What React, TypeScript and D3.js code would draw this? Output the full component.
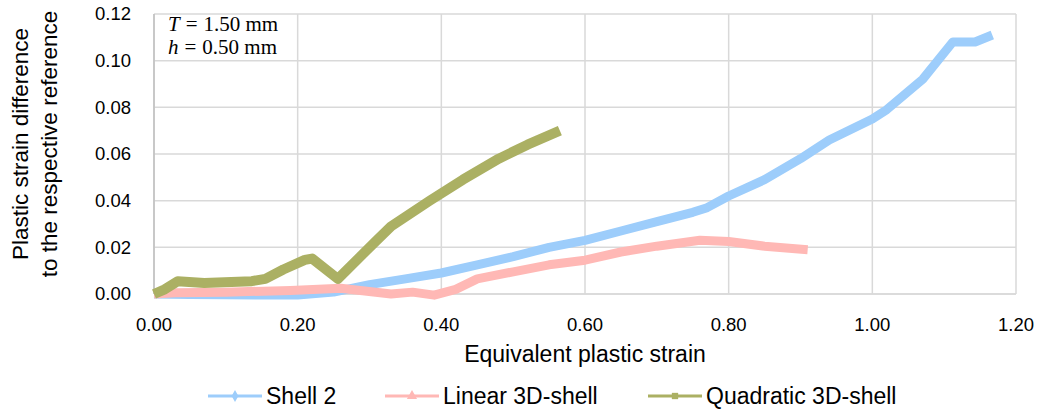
import React from "react";
import * as d3 from "d3";

const width = 1041;
const height = 412;
const margin = { top: 14, right: 25, bottom: 118, left: 154 };

// Shell 2 (blue)
const shell2X = [0, 0.05, 0.1, 0.15, 0.2, 0.25, 0.3, 0.35, 0.4, 0.45, 0.5, 0.55, 0.6, 0.65, 0.7, 0.75, 0.77, 0.8, 0.85, 0.9, 0.94, 1.0, 1.02, 1.07, 1.112, 1.143, 1.167];
const shell2Y = [0, -0.0002, -0.0003, -0.0004, -0.0004, 0.0008, 0.004, 0.0065, 0.009, 0.0125, 0.016, 0.02, 0.023, 0.027, 0.031, 0.035, 0.037, 0.042, 0.049, 0.058, 0.066, 0.075, 0.079, 0.092, 0.108, 0.108, 0.111];

// Linear 3D-shell (pink)
const linearX = [0, 0.03, 0.1, 0.19, 0.26, 0.33, 0.36, 0.39, 0.42, 0.45, 0.5, 0.55, 0.6, 0.65, 0.7, 0.76, 0.8, 0.85, 0.91];
const linearY = [0, 0.0005, 0.0008, 0.0015, 0.0025, 0.0, 0.0008, -0.0005, 0.002, 0.0065, 0.0095, 0.0125, 0.0145, 0.018, 0.0205, 0.023, 0.0225, 0.0205, 0.019];

// Quadratic 3D-shell (olive)
const quadX = [0, 0.015, 0.033, 0.07, 0.136, 0.155, 0.18, 0.21, 0.22, 0.256, 0.31, 0.33, 0.384, 0.43, 0.48, 0.52, 0.565];
const quadY = [0, 0.002, 0.0055, 0.0047, 0.0055, 0.0065, 0.0105, 0.0146, 0.0152, 0.0065, 0.023, 0.029, 0.04, 0.049, 0.058, 0.064, 0.07];

const xTicks = [0, 0.2, 0.4, 0.6, 0.8, 1.0, 1.2];
const yTicks = [0, 0.02, 0.04, 0.06, 0.08, 0.1, 0.12];

const series = [
  { name: "Shell 2", xs: shell2X, ys: shell2Y, color: "#9dcdfb", marker: "diamond", w: 9 },
  { name: "Linear 3D-shell", xs: linearX, ys: linearY, color: "#ffb8b5", marker: "triangle", w: 9 },
  { name: "Quadratic 3D-shell", xs: quadX, ys: quadY, color: "#abb063", marker: "square", w: 10 },
];

const font = "Liberation Sans, Arial, sans-serif";
const serif = "Liberation Serif, DejaVu Serif, serif";

export default function App() {
  const xScale = d3.scaleLinear().domain([0, 1.2]).range([margin.left, width - margin.right]);
  const yScale = d3.scaleLinear().domain([0, 0.12]).range([height - margin.bottom, margin.top]);

  const line = d3.line<[number, number]>()
    .x(d => xScale(d[0]))
    .y(d => yScale(d[1]));

  const legendX = [208, 385, 648];
  const legendY = 396;

  const markerPath = (kind: string) => {
    if (kind === "diamond") return d3.symbol(d3.symbolDiamond, 40)();
    if (kind === "triangle") return d3.symbol(d3.symbolTriangle, 45)();
    return d3.symbol(d3.symbolSquare, 40)();
  };

  return (
    <div style={{ position: "absolute", left: 0, top: 0 }}>
      <svg width={width} height={height} style={{ display: "block", background: "#fff" }}>
        {/* grid */}
        {yTicks.map(t => (
          <line key={"gy" + t} x1={xScale(0)} x2={xScale(1.2)} y1={yScale(t)} y2={yScale(t)} stroke="#d9d9d9" strokeWidth={1.5} />
        ))}
        {xTicks.map(t => (
          <line key={"gx" + t} x1={xScale(t)} x2={xScale(t)} y1={yScale(0)} y2={yScale(0.12)} stroke="#d9d9d9" strokeWidth={1.5} />
        ))}
        <line x1={xScale(0)} x2={xScale(0)} y1={yScale(0)} y2={yScale(0.12)} stroke="#bfbfbf" strokeWidth={1.5} />
        <line x1={xScale(0)} x2={xScale(1.2)} y1={yScale(0)} y2={yScale(0)} stroke="#d9d9d9" strokeWidth={1.5} />

        {/* tick labels */}
        {yTicks.map(t => (
          <text key={"ty" + t} x={131} y={yScale(t)} dy="0.35em" textAnchor="end" fontFamily={font} fontSize={18.5} fill="#000">
            {t.toFixed(2)}
          </text>
        ))}
        {xTicks.map(t => (
          <text key={"tx" + t} x={xScale(t)} y={325} dy="0.35em" textAnchor="middle" fontFamily={font} fontSize={18.5} fill="#000">
            {t.toFixed(2)}
          </text>
        ))}

        {/* axis titles */}
        <text x={xScale(0.6)} y={354} dy="0.35em" textAnchor="middle" fontFamily={font} fontSize={23} fill="#000">
          Equivalent plastic strain
        </text>
        <text transform="translate(20,144) rotate(-90)" textAnchor="middle" dy="0.35em" fontFamily={font} fontSize={22.5} fill="#000">
          Plastic strain difference
        </text>
        <text transform="translate(49,144) rotate(-90)" textAnchor="middle" dy="0.35em" fontFamily={font} fontSize={22.5} fill="#000">
          to the respective reference
        </text>

        {/* series */}
        {series.map(s => (
          <path key={s.name} d={line(s.xs.map((x, i) => [x, s.ys[i]] as [number, number])) || ""}
            fill="none" stroke={s.color} strokeWidth={s.w} strokeLinejoin="round" />
        ))}

        {/* annotation */}
        <text x={168} y={31} fontFamily={serif} fontSize={21} fill="#000">
          <tspan fontStyle="italic">T</tspan><tspan dx={6}>=</tspan><tspan dx={6}>1.50 mm</tspan>
        </text>
        <text x={168} y={54} fontFamily={serif} fontSize={21} fill="#000">
          <tspan fontStyle="italic">h</tspan><tspan dx={6}>=</tspan><tspan dx={6}>0.50 mm</tspan>
        </text>

        {/* legend */}
        {series.map((s, i) => (
          <g key={"lg" + s.name}>
            <line x1={legendX[i]} x2={legendX[i] + 54} y1={legendY} y2={legendY} stroke={s.color} strokeWidth={3} />
            <path d={markerPath(s.marker) || ""} transform={`translate(${legendX[i] + 27},${legendY})`} fill={s.color} />
            <text x={legendX[i] + 58} y={legendY} dy="0.35em" fontFamily={font} fontSize={23} fill="#000">
              {s.name}
            </text>
          </g>
        ))}
      </svg>
    </div>
  );
}
